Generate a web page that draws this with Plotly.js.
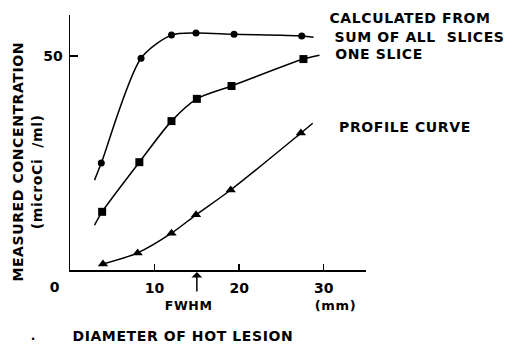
<!DOCTYPE html>
<html>
<head>
<meta charset="utf-8">
<script src="https://cdn.plot.ly/plotly-3.0.1.min.js"></script>
<style>
html,body{margin:0;padding:0;background:#fff;}
#chart{width:521px;height:348px;}
#chart .annotation-text{letter-spacing:0.6px;}
</style>
</head>
<body>
<div id="chart"></div>
<script>
// Data
const sumX = [3.7, 8.4, 12.0, 14.9, 19.4, 27.4];
const sumY = [25.0, 49.5, 54.9, 55.4, 55.1, 54.7];
const sumLineX = [2.9, 3.7, 8.4, 12.0, 14.9, 19.4, 27.4, 28.8];
const sumLineY = [21.0, 25.0, 49.5, 54.9, 55.4, 55.1, 54.7, 54.4];

const oneX = [3.8, 8.2, 12.0, 15.0, 19.1, 27.6];
const oneY = [13.6, 25.2, 34.8, 40.0, 43.0, 49.3];
const oneLineX = [2.9, 3.8, 8.2, 12.0, 15.0, 19.1, 27.6, 29.5];
const oneLineY = [10.5, 13.6, 25.2, 34.8, 40.0, 43.0, 49.3, 50.2];

const profX = [3.9, 8.0, 12.0, 14.9, 19.0, 27.3];
const profY = [1.4, 4.0, 8.6, 12.9, 18.7, 32.0];
const profLineX = [3.9, 8.0, 12.0, 14.9, 19.0, 27.3, 28.7];
const profLineY = [1.4, 4.0, 8.6, 12.9, 18.7, 32.0, 34.3];

const xTicks = [10, 20, 30];
const xTickText = ['10', '20', '30'];
const yTicks = [50];
const yTickText = ['50'];

const F = {family: 'DejaVu Sans', size: 14, color: '#000', weight: 'bold'};
const lineStyle = {color: '#000', width: 1.5, shape: 'spline', smoothing: 0.8};

const traces = [
  {x: sumLineX, y: sumLineY, mode: 'lines', line: lineStyle, hoverinfo: 'skip'},
  {x: sumX, y: sumY, mode: 'markers', marker: {symbol: 'circle', size: 7, color: '#000'}},
  {x: oneLineX, y: oneLineY, mode: 'lines', line: lineStyle, hoverinfo: 'skip'},
  {x: oneX, y: oneY, mode: 'markers', marker: {symbol: 'square', size: 8, color: '#000'}},
  {x: profLineX, y: profLineY, mode: 'lines', line: lineStyle, hoverinfo: 'skip'},
  {x: profX, y: profY, mode: 'markers', marker: {symbol: 'triangle-up', size: 9, color: '#000'}}
];

const fs = (s) => Object.assign({}, F, {size: s});
const ann = (text, x, y, opts) => Object.assign({
  text: text, x: x, y: y, xref: 'paper', yref: 'paper', showarrow: false,
  font: F, xanchor: 'left', yanchor: 'middle'
}, opts || {});

const layout = {
  width: 521, height: 348,
  margin: {l: 70, r: 155, t: 15, b: 78},
  paper_bgcolor: '#fff', plot_bgcolor: '#fff',
  showlegend: false,
  font: F,
  xaxis: {
    range: [0, 35], showgrid: false, zeroline: false,
    showline: true, linecolor: '#000', linewidth: 1.5,
    tickmode: 'array', tickvals: xTicks, ticktext: xTickText,
    ticks: 'inside', ticklen: 6, tickwidth: 1.5, tickcolor: '#000',
    tickfont: F, ticklabelstandoff: 5
  },
  yaxis: {
    range: [0, 59.6], showgrid: false, zeroline: false,
    showline: true, linecolor: '#000', linewidth: 1.5,
    tickmode: 'array', tickvals: yTicks, ticktext: yTickText,
    ticks: 'inside', ticklen: 8, tickwidth: 1.5, tickcolor: '#000',
    tickfont: F, ticklabelstandoff: 3
  },
  annotations: [
    ann('CALCULATED FROM', 0.886, 0.988),
    ann('SUM OF ALL\u00a0\u00a0SLICES', 0.906, 0.914),
    ann('ONE SLICE', 0.900, 0.847),
    ann('PROFILE CURVE', 0.916, 0.561),
    ann('0', -0.052, -0.067, {xanchor: 'center'}),
    ann('FWHM', 0.402, -0.141, {xanchor: 'center', font: fs(12.5)}),
    ann('(mm)', 0.896, -0.141, {xanchor: 'center', font: fs(13)}),
    ann('DIAMETER OF HOT LESION', 0.023, -0.259, {font: fs(14)}),
    ann('.', -0.125, -0.26, {xanchor: 'center', font: fs(12)}),
    ann('MEASURED CONCENTRATION', -0.176, 0.427, {xanchor: 'center', textangle: -90, font: fs(14)}),
    ann('(microCi\u00a0\u00a0/ml)', -0.112, 0.384, {xanchor: 'center', textangle: -90, font: fs(14)}),
    {x: 15, y: -0.008, xref: 'x', yref: 'paper', text: '', showarrow: true,
     arrowhead: 1, arrowsize: 1.2, arrowwidth: 1.5, arrowcolor: '#000', ax: 0, ay: 21}
  ]
};

Plotly.newPlot('chart', traces, layout, {staticPlot: true, displayModeBar: false});
</script>
</body>
</html>
